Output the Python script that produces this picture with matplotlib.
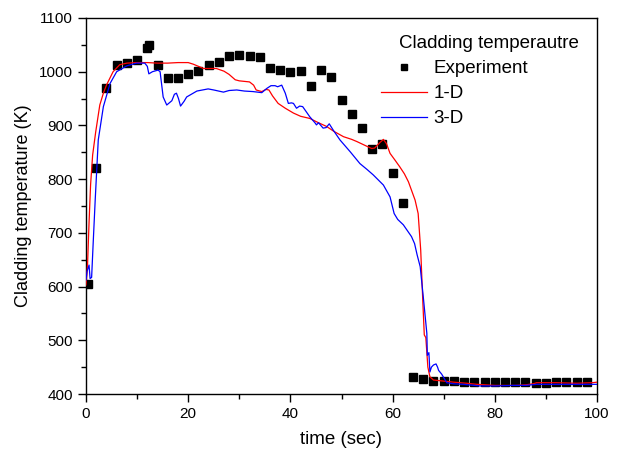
import matplotlib
matplotlib.use("Agg")
import matplotlib.pyplot as plt
from matplotlib.ticker import MultipleLocator

plt.rcParams["font.family"] = ["Liberation Sans", "DejaVu Sans"]

# Measured cladding temperature (K) vs time (s)
exp_time = [0.3, 2, 4, 6, 8, 10, 12, 12.3, 14, 16, 18, 20, 22, 24, 26, 28, 30, 32,
            34, 36, 38, 40, 42, 44, 46, 48, 50, 52, 54, 56, 58, 60, 62,
            64, 66, 68, 70, 72, 74, 76, 78, 80, 82, 84, 86, 88, 90, 92, 94, 96, 98]
exp_temp = [605, 820, 970, 1013, 1017, 1022, 1045, 1050, 1012, 988, 989, 996, 1001,
            1012, 1018, 1029, 1032, 1029, 1027, 1007, 1003, 999, 1001, 973, 1003,
            991, 948, 922, 895, 856, 865, 811, 756,
            431, 428, 425, 425, 424, 423, 423, 423, 423, 422, 422, 422, 421, 421,
            422, 422, 422, 422]

# 1-D model prediction
t_1d = [0, 0.3, 0.6, 0.9, 1.3, 1.9, 2.7, 3.4, 4.0, 5.3, 6.6, 8.0, 10, 12, 14, 16,
        18, 20, 21, 22, 23, 25.5, 27, 28, 29.2, 30, 32, 32.8, 33.3, 34.4, 35.2,
        35.8, 36.5, 37.6, 39, 40.6, 42, 43.8, 45.5, 47.1, 48.5, 50.4, 52, 53,
        55.9, 56.5, 57.5, 58.2, 58.8, 59.5, 60.5, 61.4, 62.3, 63.1, 64.4, 65,
        65.5, 65.9, 66.2, 66.5, 66.9, 67.3, 68, 70, 72, 74.5, 76.5, 80, 84, 86,
        87.5, 88.2, 92, 96, 99, 100]
T_1d = [603, 640, 720, 790, 845, 888, 938, 960, 975, 1000, 1013, 1016, 1017, 1017,
        1016, 1016, 1017, 1017, 1014, 1010, 1006, 1006, 1001, 995, 985, 983, 981,
        975, 966, 963, 967, 966, 955, 941, 932, 923, 917, 913, 905, 898, 889, 879,
        874, 870, 857, 858, 868, 874, 866, 848, 835, 823, 810, 795, 761, 736,
        668, 575, 510, 505, 450, 432, 426, 424, 422, 420, 418, 416, 416, 417,
        419, 421, 421, 420, 421, 422]

# 3-D model prediction
t_3d = [0, 0.2, 0.6, 0.8, 1.1, 1.4, 1.8, 2.4, 3.4, 4.7, 6, 8, 9.9, 11.5, 12.0,
        12.3, 13, 14.1, 14.5, 15.1, 15.8, 16.8, 17.3, 17.7, 18.1, 18.5, 19.2,
        19.7, 21.7, 23.9, 25, 26.9, 28, 29.5, 31, 32.7, 34.4, 35.4, 36.2, 37,
        37.5, 38.3, 39, 39.6, 40.2, 40.6, 41.2, 41.8, 42.4, 43.8, 44.8, 45.1,
        45.5, 46.4, 47.0, 47.6, 48.4, 49.7, 50.7, 51.7, 53.6, 55, 56.2, 58.2,
        59.5, 60.3, 61, 62.1, 63.7, 64.3, 64.8, 65.4, 66, 66.7, 66.8, 67.1,
        67.3, 67.6, 68, 68.5, 68.8, 69, 69.6, 70.6, 72, 73.9, 77.1, 80, 83.6,
        86, 88.2, 92, 96, 100]
T_3d = [612, 628, 640, 615, 617, 680, 761, 873, 935, 978, 1000, 1011, 1016, 1016,
        1010, 996, 1000, 1003, 1000, 953, 938, 946, 958, 960, 950, 936, 945, 953,
        964, 968, 966, 962, 965, 966, 964, 963, 961, 969, 974, 974, 972, 975,
        960, 941, 942, 941, 932, 936, 935, 916, 905, 901, 905, 895, 896, 903,
        891, 873, 862, 851, 829, 818, 808, 789, 767, 736, 725, 715, 693, 680,
        659, 637, 581, 513, 472, 477, 441, 450, 454, 456, 450, 444, 437, 421,
        419, 418, 415, 415, 416, 416, 418, 418, 418, 418]

x_ticks = [0, 20, 40, 60, 80, 100]
y_ticks = [400, 500, 600, 700, 800, 900, 1000, 1100]

fig = plt.figure(figsize=(6.21, 4.58), dpi=100)
ax = fig.add_axes([86 / 621, 1 - 394 / 458, (597 - 86) / 621, (394 - 18) / 458])

ax.plot(exp_time, exp_temp, linestyle="none", marker="s", ms=6, color="black",
        label="Experiment", zorder=2)
ax.plot(t_1d, T_1d, color="red", lw=0.9, label="1-D", zorder=3)
ax.plot(t_3d, T_3d, color="blue", lw=0.9, label="3-D", zorder=3)

ax.set_xlim(0, 100)
ax.set_ylim(400, 1100)
ax.set_xticks(x_ticks)
ax.set_yticks(y_ticks)
ax.xaxis.set_minor_locator(MultipleLocator(10))
ax.yaxis.set_minor_locator(MultipleLocator(50))
ax.tick_params(which="both", direction="out", width=1, labelsize=11,
               top=False, right=False)
ax.tick_params(which="major", length=6)
ax.tick_params(which="minor", length=3.5)
for s in ax.spines.values():
    s.set_linewidth(1)

ax.set_xlabel("time (sec)", fontsize=13.5, labelpad=7)
ax.set_ylabel("Cladding temperature (K)", fontsize=13, labelpad=5)

fig.text(399 / 621, 1 - 44 / 458, "Cladding temperautre", fontsize=13.5,
         ha="left", va="center")
ax.legend(loc="upper left", bbox_to_anchor=(381 / 621, 1 - 60 / 458),
          bbox_transform=fig.transFigure, frameon=False, fontsize=13.5,
          borderpad=0, borderaxespad=0, handlelength=2.45, handletextpad=0.35,
          labelspacing=0.42, markerscale=0.75)

fig.savefig("out.png", dpi=100)
